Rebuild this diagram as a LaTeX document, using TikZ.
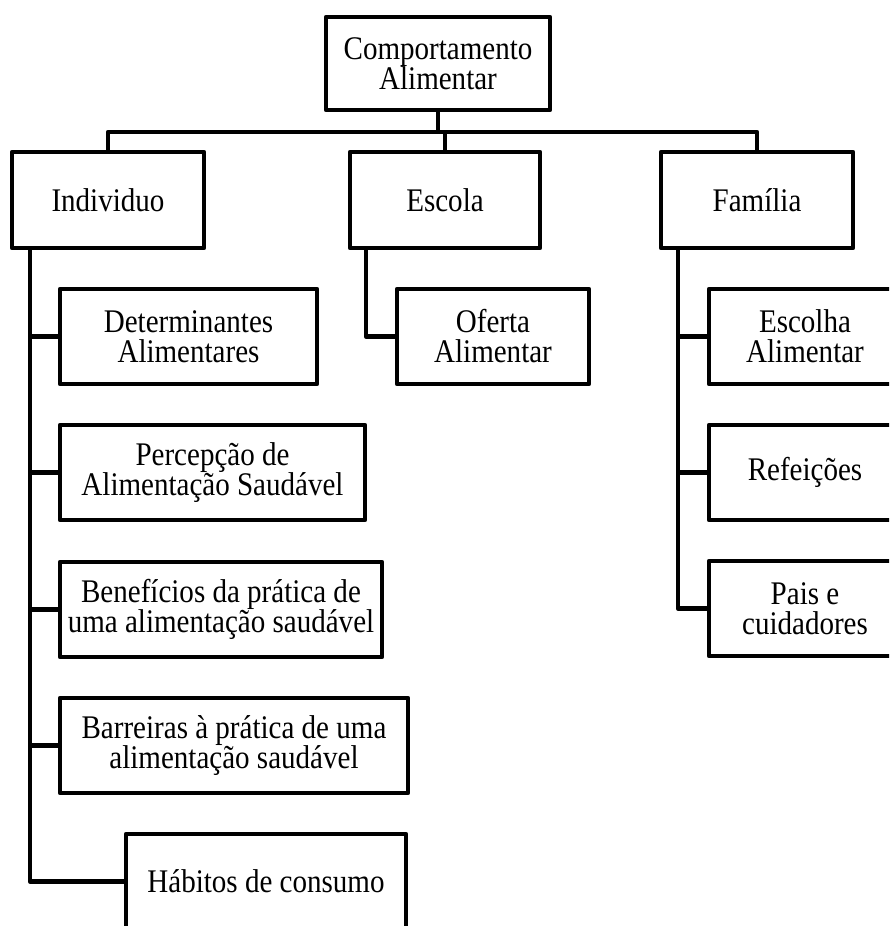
\documentclass[tikz,border=0pt]{standalone}
\usepackage{fontspec}
\setmainfont{Liberation Serif}[FakeStretch=0.88]
\begin{document}
\begin{tikzpicture}[x=1pt,y=-1pt,
  box/.style={draw, line width=4.4pt, line join=round, align=center, inner sep=0pt,
    fill=white, font=\fontsize{33}{30}\selectfont},
  wire/.style={line width=4.4pt, line join=round}]
\useasboundingbox (0,0) rectangle (889,926);
\clip (0,0) rectangle (889,926);
% top level
\node[box, minimum width=224pt, minimum height=93pt] (top) at (438,63.5) {Comportamento\\Alimentar};
% second level
\node[box, minimum width=192pt, minimum height=96pt] (ind) at (108,200) {Individuo};
\node[box, minimum width=190pt, minimum height=96pt] (esc) at (445,200) {Escola};
\node[box, minimum width=192pt, minimum height=96pt] (fam) at (757,200) {Família};
% Individuo children
\node[box, minimum width=257pt, minimum height=95pt] (det) at (188.5,336.5) {Determinantes\\Alimentares};
\node[box, minimum width=305pt, minimum height=95pt] (per) at (212.5,472.5) {Percepção de\\Alimentação Saudável};
\node[box, minimum width=322pt, minimum height=95pt] (ben) at (221,609.5) {Benefícios da prática de\\uma alimentação saudável};
\node[box, minimum width=348pt, minimum height=95pt] (bar) at (234,745.5) {Barreiras à prática de uma\\alimentação saudável};
\node[box, minimum width=280pt, minimum height=95pt] (hab) at (266,881.5) {Hábitos de consumo};
% Escola child
\node[box, minimum width=192pt, minimum height=95pt] (ofe) at (493,336.5) {Oferta\\Alimentar};
% Familia children
\node[box, minimum width=192pt, minimum height=95pt] (esch) at (805,336.5) {Escolha\\Alimentar};
\node[box, minimum width=192pt, minimum height=95pt] (ref) at (805,472.5) {Refeições};
\node[box, minimum width=192pt, minimum height=95pt] (pai) at (805,608.5) {Pais e\\cuidadores};
% bus
\coordinate (bus) at (108,132);
\draw[wire] (top.south) -- (top.south |- bus);
\draw[wire] (ind.north) |- (fam.north |- bus) -- (fam.north);
\draw[wire] (esc.north) -- (esc.north |- bus);
% Individuo trunk
\coordinate (indt) at ([xshift=20pt]ind.south west);
\draw[wire] (indt) |- (hab.west);
\draw[wire] (det.west) -- (det.west -| indt);
\draw[wire] (per.west) -- (per.west -| indt);
\draw[wire] (ben.west) -- (ben.west -| indt);
\draw[wire] (bar.west) -- (bar.west -| indt);
% Escola trunk
\coordinate (esct) at ([xshift=18pt]esc.south west);
\draw[wire] (esct) |- (ofe.west);
% Familia trunk
\coordinate (famt) at ([xshift=19pt]fam.south west);
\draw[wire] (famt) |- (pai.west);
\draw[wire] (esch.west) -- (esch.west -| famt);
\draw[wire] (ref.west) -- (ref.west -| famt);
\end{tikzpicture}
\end{document}
